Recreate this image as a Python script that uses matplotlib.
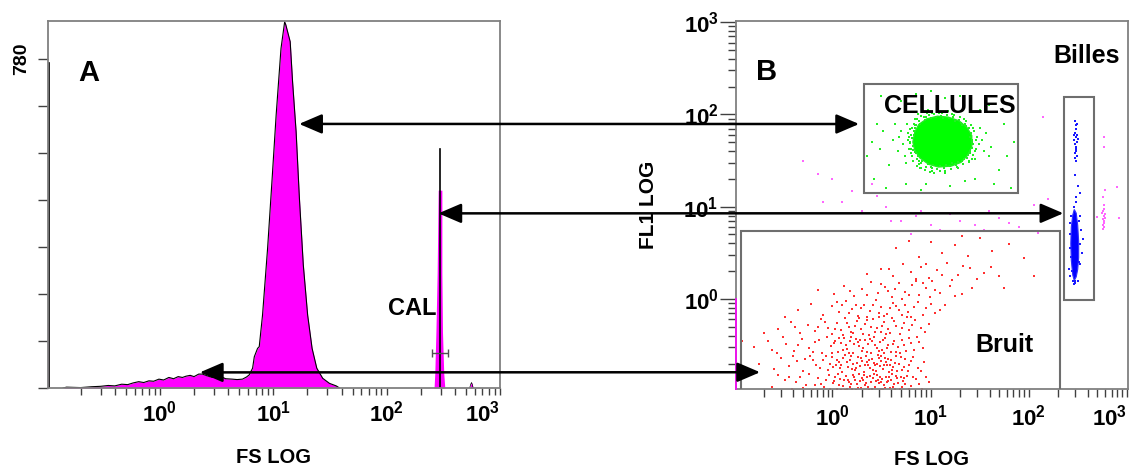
import numpy as np
import matplotlib
matplotlib.use("Agg")
import matplotlib.pyplot as plt
from matplotlib.patches import Rectangle, Polygon, ConnectionPatch
from matplotlib.ticker import FixedLocator, FixedFormatter, NullFormatter
from matplotlib import font_manager

# ---------------------------------------------------------------- fonts
_names = {f.name for f in font_manager.fontManager.ttflist}
NUM_FONT = 'Liberation Sans Narrow' if 'Liberation Sans Narrow' in _names else 'Liberation Sans'
plt.rcParams['font.family'] = ['Liberation Sans', 'DejaVu Sans']
plt.rcParams['font.weight'] = 'bold'
plt.rcParams['mathtext.fontset'] = 'custom'
plt.rcParams['mathtext.rm'] = NUM_FONT + ':bold'
plt.rcParams['mathtext.it'] = NUM_FONT + ':bold'
plt.rcParams['mathtext.bf'] = NUM_FONT + ':bold'

# ---------------------------------------------------------------- data
# Panel A: FS LOG histogram (channel value, event count)
fs_channels = [0.14, 0.15, 0.2, 0.25, 0.3, 0.35, 0.4, 0.46, 0.52, 0.58, 0.65, 0.72,
               0.8, 0.88, 0.98, 1.08, 1.2, 1.32, 1.45, 1.58, 1.7, 1.85, 2.0, 2.2,
               2.37, 2.6, 2.9, 3.1, 3.45, 3.8, 4.35, 4.8, 5.35, 5.8, 6.13, 6.57,
               6.8, 7.27, 7.52, 8.04, 8.91, 9.73, 10.6, 11.7, 12.6, 12.9, 14.1,
               14.8, 15.9, 17.0, 18.4, 20.1, 22.0, 24.2, 27.3, 31.3, 35.9, 38.4]
fs_counts = [0, 2, 1, 3, 4, 6, 5, 9, 8, 12, 15, 13,
             17, 16, 21, 19, 25, 22, 27, 25, 28, 30, 27, 33,
             33, 29, 25, 28, 27, 22, 21, 20, 21, 26, 31, 47,
             74, 94, 98, 173, 331, 489, 647, 805, 868, 861, 821,
             726, 608, 450, 292, 173, 94, 47, 23, 11, 5, 0]

# calibration-bead peak ("CAL")
cal_channels = [262, 266, 272, 279, 285, 307, 307, 311, 319, 326]
cal_counts = [0, 35, 132, 272, 469, 469, 272, 132, 35, 0]
cal_line_channel = 294
cal_line_top = 566
cal_gate = (250, 347)
cal_gate_level = 83

# doublet bump and first-channel pile-up
bump_channels = [540, 552, 561, 570, 580]
bump_counts = [0, 9, 13, 8, 0]
edge_fill_top = 154
edge_line_top = 771

y_ticks_a = [0, 111.4, 222.9, 334.3, 445.7, 557.1, 668.6, 780]
y_labels_a = ['', '', '', '', '', '', '', '780']

decades = [1, 10, 100, 1000]
decade_labels = [r'$10^{0}$', r'$10^{1}$', r'$10^{2}$', r'$10^{3}$']

# Panel B: dot plot, log10(FS), log10(FL1)
noise_pts = [
    (-0.62,-0.95),(-0.48,-0.88),(-0.41,-0.97),(-0.33,-0.84),(-0.27,-0.93),(-0.2,-0.99),
    (-0.15,-0.86),(-0.09,-0.95),(-0.04,-0.82),(0.01,-0.91),(0.05,-0.98),(0.08,-0.87),
    (0.11,-0.94),(0.14,-0.83),(0.17,-0.9),(0.2,-0.97),(0.22,-0.85),(0.25,-0.92),
    (0.27,-0.81),(0.29,-0.96),(0.31,-0.88),(0.33,-0.93),(0.35,-0.84),(0.37,-0.99),
    (0.39,-0.9),(0.41,-0.86),(0.43,-0.95),(0.45,-0.82),(0.47,-0.91),(0.49,-0.97),
    (0.51,-0.87),(0.53,-0.93),(0.55,-0.84),(0.57,-0.89),(0.59,-0.96),(0.61,-0.81),
    (0.63,-0.92),(0.66,-0.86),(0.69,-0.98),(0.72,-0.89),(0.76,-0.83),(0.8,-0.94),
    (0.85,-0.87),(0.91,-0.97),(-0.55,-0.82),(-0.37,-0.9),(-0.12,-0.92),(0.03,-0.85),
    (0.19,-0.92),(0.24,-0.99),(0.34,-0.91),(0.42,-0.81),(0.46,-0.88),(0.52,-0.98),
    (0.58,-0.85),(0.64,-0.97),(0.7,-0.84),(0.74,-0.92),(0.07,-0.93),(0.15,-0.97),
    (0.28,-0.89),(0.38,-0.83),(0.5,-0.9),(0.6,-0.88),(0.98,-0.9),(-0.02,-0.97),
    (0.12,-0.88),(0.32,-0.82),
    (0.02,-0.89),(0.06,-0.81),(0.09,-0.99),(0.16,-0.88),(0.18,-0.95),(0.21,-0.82),
    (0.26,-0.96),(0.3,-0.86),(0.36,-0.95),(0.4,-0.98),(0.44,-0.89),(0.48,-0.84),
    (0.54,-0.96),(0.56,-0.9),(0.62,-0.95),(0.65,-0.83),(0.67,-0.91),(0.71,-0.95),
    (0.73,-0.86),(0.78,-0.97),(0.82,-0.85),(0.88,-0.92),(0.95,-0.84),(-0.07,-0.88),
    (-0.18,-0.93),(-0.3,-0.96),(-0.44,-0.85),(-0.24,-0.81),(0.13,-0.99),(0.23,-0.88),
    (-0.75,-0.7),(-0.6,-0.76),(-0.52,-0.64),(-0.44,-0.73),(-0.36,-0.67),(-0.3,-0.78),
    (-0.23,-0.62),(-0.17,-0.71),(-0.1,-0.66),(-0.05,-0.77),(0.0,-0.63),(0.04,-0.72),
    (0.07,-0.68),(0.1,-0.79),(0.13,-0.61),(0.16,-0.74),(0.18,-0.66),(0.21,-0.7),
    (0.23,-0.77),(0.26,-0.63),(0.28,-0.73),(0.3,-0.67),(0.32,-0.79),(0.34,-0.62),
    (0.36,-0.71),(0.38,-0.75),(0.4,-0.65),(0.42,-0.69),(0.44,-0.78),(0.46,-0.61),
    (0.48,-0.73),(0.5,-0.67),(0.52,-0.76),(0.54,-0.64),(0.56,-0.71),(0.58,-0.79),
    (0.6,-0.66),(0.62,-0.74),(0.65,-0.62),(0.68,-0.7),(0.71,-0.77),(0.74,-0.65),
    (0.78,-0.72),(0.82,-0.63),(0.87,-0.75),(0.93,-0.68),(-0.85,-0.77),(-0.28,-0.65),
    (-0.02,-0.7),(0.11,-0.64),(0.24,-0.75),(0.35,-0.68),(0.47,-0.64),(0.59,-0.72),
    (0.66,-0.78),(0.08,-0.75),(0.19,-0.62),(0.43,-0.72),(0.55,-0.68),(0.77,-0.78),
    (0.01,-0.74),(0.05,-0.66),(0.09,-0.71),(0.15,-0.68),(0.2,-0.76),(0.25,-0.69),
    (0.29,-0.64),(0.33,-0.72),(0.37,-0.66),(0.41,-0.77),(0.45,-0.7),(0.49,-0.62),
    (0.53,-0.71),(0.57,-0.65),(0.61,-0.77),(0.64,-0.69),(0.7,-0.63),(0.73,-0.74),
    (0.8,-0.67),(0.9,-0.78),(-0.13,-0.75),(-0.2,-0.66),(-0.4,-0.62),(-0.07,-0.62),
    (-0.8,-0.52),(-0.66,-0.45),(-0.57,-0.58),(-0.47,-0.49),(-0.39,-0.56),(-0.31,-0.43),
    (-0.24,-0.53),(-0.18,-0.47),(-0.11,-0.58),(-0.06,-0.41),(-0.01,-0.51),(0.03,-0.45),
    (0.06,-0.57),(0.09,-0.48),(0.12,-0.42),(0.15,-0.54),(0.18,-0.46),(0.21,-0.59),
    (0.24,-0.43),(0.27,-0.51),(0.3,-0.56),(0.33,-0.44),(0.36,-0.49),(0.39,-0.58),
    (0.42,-0.41),(0.45,-0.53),(0.48,-0.47),(0.51,-0.55),(0.54,-0.42),(0.57,-0.5),
    (0.6,-0.57),(0.63,-0.45),(0.67,-0.52),(0.71,-0.44),(0.75,-0.56),(0.8,-0.48),
    (0.86,-0.41),(0.92,-0.53),(-0.5,-0.41),(-0.14,-0.44),(0.0,-0.59),(0.14,-0.5),
    (0.26,-0.47),(0.4,-0.45),(0.53,-0.59),(0.69,-0.58),(0.83,-0.55),(0.19,-0.41),
    (0.02,-0.48),(0.07,-0.42),(0.11,-0.55),(0.17,-0.58),(0.22,-0.49),(0.28,-0.44),
    (0.31,-0.53),(0.35,-0.57),(0.38,-0.43),(0.43,-0.5),(0.47,-0.56),(0.52,-0.44),
    (0.56,-0.53),(0.62,-0.49),(0.65,-0.57),(0.73,-0.5),(0.78,-0.42),(0.88,-0.47),
    (-0.2,-0.57),(-0.35,-0.5),(-0.62,-0.55),
    (-0.55,-0.33),(-0.42,-0.25),(-0.33,-0.37),(-0.25,-0.28),(-0.18,-0.35),(-0.12,-0.22),
    (-0.05,-0.31),(0.0,-0.38),(0.05,-0.26),(0.09,-0.34),(0.13,-0.21),(0.17,-0.3),
    (0.21,-0.37),(0.25,-0.24),(0.29,-0.32),(0.33,-0.27),(0.37,-0.39),(0.41,-0.22),
    (0.45,-0.31),(0.49,-0.36),(0.53,-0.25),(0.57,-0.33),(0.61,-0.21),(0.65,-0.29),
    (0.69,-0.38),(0.73,-0.26),(0.78,-0.34),(0.84,-0.23),(0.9,-0.31),(0.98,-0.27),
    (-0.7,-0.37),(-0.08,-0.25),(0.23,-0.29),(0.39,-0.3),(0.55,-0.38),(0.76,-0.2),
    (0.11,-0.39),(0.47,-0.2),
    (0.03,-0.33),(0.15,-0.26),(0.19,-0.36),(0.27,-0.21),(0.31,-0.38),(0.35,-0.23),
    (0.43,-0.36),(0.51,-0.29),(0.59,-0.37),(0.63,-0.24),(0.71,-0.31),(0.81,-0.28),
    (0.94,-0.36),(-0.15,-0.3),(-0.38,-0.3),
    (-0.35,-0.12),(-0.22,-0.05),(-0.1,-0.17),(0.0,-0.08),(0.07,-0.14),(0.14,-0.02),
    (0.2,-0.11),(0.26,-0.18),(0.32,-0.06),(0.38,-0.13),(0.44,-0.01),(0.5,-0.09),
    (0.56,-0.16),(0.62,-0.04),(0.68,-0.12),(0.74,-0.07),(0.8,-0.19),(0.87,-0.03),
    (0.95,-0.1),(1.05,-0.15),(1.15,-0.06),(0.1,-0.06),(0.35,-0.19),(0.59,-0.1),
    (0.77,-0.14),(0.47,-0.15),(0.92,-0.17),(-0.48,-0.2),
    (0.05,-0.03),(0.17,-0.15),(0.29,-0.1),(0.41,-0.07),(0.53,-0.18),(0.65,-0.08),
    (0.71,-0.17),(0.83,-0.09),(1.0,-0.05),(1.1,-0.12),(0.24,-0.06),
    (0.02,0.05),(0.12,0.14),(0.22,0.03),(0.3,0.11),(0.39,0.18),(0.46,0.06),
    (0.54,0.13),(0.61,0.02),(0.68,0.17),(0.74,0.08),(0.81,0.15),(0.88,0.04),
    (0.95,0.12),(1.02,0.19),(1.1,0.07),(1.2,0.14),(1.32,0.05),(0.57,0.09),
    (0.85,0.19),(0.99,0.02),(-0.15,0.1),(0.71,0.0),
    (0.18,0.09),(0.35,0.04),(0.5,0.16),(0.64,0.11),(0.78,0.04),(0.92,0.17),
    (1.05,0.1),(1.25,0.03),(1.42,0.12),
    (0.35,0.27),(0.5,0.33),(0.62,0.25),(0.72,0.38),(0.8,0.29),(0.9,0.35),
    (0.98,0.23),(1.07,0.31),(1.17,0.39),(1.28,0.26),(1.4,0.34),(1.55,0.28),
    (0.85,0.22),(1.22,0.21),(0.58,0.32),(0.95,0.38),(1.12,0.26),(1.33,0.36),
    (1.47,0.22),(1.62,0.35),(1.7,0.25),
    (0.65,0.55),(0.88,0.45),(1.0,0.62),(1.12,0.5),(1.25,0.58),(1.38,0.47),
    (1.5,0.66),(1.63,0.52),(1.8,0.6),(1.95,0.44),(1.32,0.68),(0.78,0.63),
    (2.05,0.25),(1.75,0.12),(-0.92,-0.45),
]

cell_core = [(0.82,1.70),(0.84,1.81),(0.88,1.89),(0.96,1.95),(1.07,1.98),(1.18,1.97),
             (1.29,1.93),(1.37,1.86),(1.42,1.77),(1.42,1.65),(1.38,1.56),(1.31,1.48),
             (1.21,1.44),(1.08,1.43),(0.98,1.46),(0.89,1.53),(0.84,1.61)]
cell_pts = [
    (0.62,1.72),(0.67,1.6),(0.7,1.82),(0.72,1.68),(0.74,1.55),(0.76,1.9),(0.78,1.75),
    (0.8,1.63),(0.81,1.85),(0.82,1.5),(0.84,1.95),(0.83,1.78),(0.85,1.58),(0.87,2.0),
    (0.86,1.44),(0.9,1.98),(0.89,1.42),(0.92,2.03),(0.94,1.4),(0.97,2.05),(0.99,1.38),
    (1.02,2.02),(1.04,1.36),(1.07,2.07),(1.1,1.39),(1.12,2.01),(1.15,1.37),(1.18,2.04),
    (1.21,1.41),(1.24,1.99),(1.27,1.43),(1.3,1.97),(1.33,1.46),(1.36,1.93),(1.39,1.5),
    (1.41,1.88),(1.43,1.56),(1.44,1.82),(1.46,1.62),(1.47,1.75),(1.49,1.68),(1.52,1.72),
    (1.54,1.6),(1.5,1.85),(0.68,1.76),(0.75,1.47),(1.57,1.8),(0.64,1.9),(1.62,1.65),
    (1.6,1.55),(0.79,1.7),(0.8,1.58),(0.84,1.88),(0.88,1.49),(0.95,1.97),(1.0,1.43),
    (1.13,1.97),(1.25,1.46),(1.32,1.89),(1.4,1.6),(1.42,1.7),(0.77,1.8),(1.45,1.52),
    (0.82,1.66),(0.81,1.74),(0.83,1.82),(0.84,1.59),(0.85,1.88),(0.86,1.52),(0.88,1.93),
    (0.9,1.47),(0.93,1.97),(0.95,1.43),(0.98,1.99),(1.01,1.42),(1.04,2.0),(1.07,1.41),
    (1.11,1.98),(1.14,1.42),(1.17,1.99),(1.2,1.44),(1.23,1.97),(1.26,1.45),(1.29,1.94),
    (1.32,1.49),(1.35,1.9),(1.37,1.53),(1.39,1.85),(1.4,1.58),(1.41,1.8),(1.42,1.64),
    (1.42,1.72),(0.79,1.69),(0.8,1.78),(0.82,1.61),(0.84,1.85),(0.87,1.55),(0.89,1.9),
    (0.91,1.5),(0.94,1.94),(0.97,1.46),(1.0,1.96),(1.03,1.45),(1.06,1.97),(1.1,1.44),
    (1.13,1.96),(1.16,1.45),(1.19,1.96),(1.22,1.47),(1.25,1.93),(1.28,1.48),(1.31,1.91),
    (1.34,1.52),(1.36,1.87),(1.38,1.56),(1.4,1.76),(1.43,1.68),(0.78,1.62),(0.77,1.72),
    (0.79,1.84),(0.81,1.55),(0.86,1.95),(0.9,1.42),(0.96,2.01),(1.02,1.39),(1.09,2.02),
    (1.15,1.39),(1.22,2.0),(1.28,1.42),(1.34,1.95),(1.39,1.48),(1.43,1.85),(1.45,1.6),
    (1.46,1.72),(0.83,1.9),(0.88,1.46),(1.42,1.52),
    (0.35,1.55),(0.42,1.3),(0.45,1.9),(0.5,2.2),(0.55,1.2),(0.58,1.45),(0.7,2.15),
    (0.75,1.25),(0.9,1.18),(1.0,2.25),(1.2,1.22),(1.3,2.2),(1.45,1.3),(1.6,2.1),
    (1.7,1.4),(1.75,1.9),(1.82,1.2),(1.85,1.7),(0.4,1.7),(0.48,1.62),(0.95,1.25),
    (1.35,1.28),(1.65,1.25),(1.15,2.18),(0.85,2.22),(1.5,2.05),(1.78,1.55),(0.52,1.82),
    (0.32,1.25),(1.05,1.15),
]

bead_core = [(2.465,0.97),(2.485,0.93),(2.50,0.80),(2.51,0.62),(2.51,0.45),(2.50,0.32),
             (2.485,0.24),(2.465,0.20),(2.45,0.26),(2.435,0.42),(2.43,0.60),(2.435,0.78),
             (2.45,0.91)]
bead_pts = [
    (2.43,0.9),(2.51,0.85),(2.42,0.7),(2.52,0.6),(2.43,0.45),(2.51,0.4),(2.44,0.3),
    (2.5,0.2),(2.46,0.16),(2.47,0.19),(2.42,0.55),(2.53,0.75),(2.46,1.0),(2.48,1.05),
    (2.41,0.33),(2.54,0.5),(2.475,0.17),(2.455,0.2),(2.42,0.82),(2.525,0.38),
    (2.52,0.9),(2.42,0.25),
    (2.475,1.93),(2.48,1.88),(2.485,1.84),(2.47,1.8),(2.49,1.78),(2.48,1.75),(2.46,1.72),
    (2.495,1.7),(2.47,1.68),(2.485,1.65),(2.48,1.62),(2.475,1.58),(2.49,1.55),(2.47,1.53),
    (2.48,1.6),(2.5,1.73),(2.46,1.78),(2.49,1.9),(2.48,1.5),(2.47,1.34),(2.5,1.22),
    (2.48,1.1),(2.52,1.15),(2.55,0.65),
]

rare_pts = [
    (2.76,1.1),(2.765,1.02),(2.77,0.98),(2.76,0.95),(2.775,0.92),(2.765,0.9),(2.76,0.87),
    (2.77,0.85),(2.765,0.82),(2.755,0.8),(2.77,0.78),(2.76,0.76),(2.78,0.88),(2.75,0.93),
    (2.77,1.75),(2.77,1.65),(2.9,1.21),(2.92,0.88),(2.7,0.89),(2.78,1.18),
    (-0.3,1.5),(-0.15,1.35),(0.0,1.3),(0.1,1.05),(0.2,1.17),(0.3,0.95),(0.45,1.12),
    (0.55,1.0),(0.6,0.85),(0.7,0.85),(0.8,0.7),(0.9,0.95),(1.0,0.8),(1.1,0.75),
    (1.2,0.92),(1.3,0.85),(1.45,0.8),(1.6,0.95),(1.7,0.88),(1.8,0.82),(1.9,0.78),
    (2.05,1.02),(2.2,1.08),(0.4,1.25),(-0.1,1.05),(1.55,0.75),(2.1,0.72),(0.85,0.9),
    (2.15,1.97),
]

# gates: (FS low, FS high, FL1 low, FL1 high)
gate_cells = (2.10, 78.2, 14.1, 213)
gate_beads = (230, 465, 0.975, 154)
gate_noise = (0.117, 209, 0.09, 5.45)

# linking arrows: panel A (FS, count) <-> panel B (FS, FL1)
arrow_a = [(16.9, 626), (286, 414), (2.25, 37)]
arrow_b = [(1.87, 78.6), (226, 8.48), (0.183, 0.161)]

# ---------------------------------------------------------------- figure
W, H = 1131, 468
fig = plt.figure(figsize=(W / 100, H / 100), dpi=100)
axA = fig.add_axes([48 / W, 1 - 388 / H, 452 / W, 367 / H])
axB = fig.add_axes([736 / W, 1 - 389 / H, 392 / W, 368 / H])

MAGENTA = '#ff00ff'
SPINE = '#808080'
TICK = '#404040'
GATE = '#6e6e6e'


def style_log_x(ax, major_len, minor_len, pad):
    ax.set_xscale('log')
    ax.xaxis.set_major_locator(FixedLocator(decades))
    ax.xaxis.set_major_formatter(FixedFormatter(decade_labels))
    ax.xaxis.set_minor_locator(FixedLocator([m * d for d in (0.1, 1, 10, 100) for m in range(2, 10)]))
    ax.xaxis.set_minor_formatter(NullFormatter())
    ax.tick_params(axis='x', which='major', length=major_len, width=1, color=TICK,
                   pad=pad, labelsize=16)
    ax.tick_params(axis='x', which='minor', length=minor_len, width=1, color=TICK)
    labels = ax.get_xticklabels()
    labels[-1].set_horizontalalignment('right')


for ax in (axA, axB):
    for s in ax.spines.values():
        s.set_color(SPINE)
        s.set_linewidth(1.3)

# ---- panel A
axA.fill_between(fs_channels, fs_counts, color=MAGENTA, lw=0)
axA.plot(fs_channels, fs_counts, color='black', lw=0.8)
axA.fill_between(cal_channels, cal_counts, color=MAGENTA, lw=0)
axA.plot([cal_line_channel, cal_line_channel], [0, cal_line_top], color='black', lw=1.2)
axA.fill_between(bump_channels, bump_counts, color=MAGENTA, lw=0)
axA.plot(bump_channels, bump_counts, color='black', lw=0.5)
axA.fill_between([0.103, 0.106], [edge_fill_top, edge_fill_top], color=MAGENTA, lw=0)
axA.plot([0.1045, 0.1045], [0, edge_line_top], color='black', lw=1.2)
cal_mid = (cal_gate[0] * cal_gate[1]) ** 0.5
axA.errorbar([cal_mid], [cal_gate_level],
             xerr=[[cal_mid - cal_gate[0]], [cal_gate[1] - cal_mid]],
             fmt='none', ecolor='#505050', elinewidth=1, capsize=3, capthick=1)

axA.set_xlim(0.103, 1000)
axA.set_ylim(0, 870)
style_log_x(axA, 5, 5, 4)
axA.set_yticks(y_ticks_a)
axA.set_yticklabels(y_labels_a)
axA.tick_params(axis='y', length=7.2, width=1, color=TICK, pad=6, labelsize=14,
                labelrotation=90)
for lbl in axA.get_yticklabels():
    lbl.set_fontfamily(NUM_FONT)
    lbl.set_verticalalignment('center')

axA.text(0.0907, 0.8365, 'A', transform=axA.transAxes, ha='center', va='baseline',
         fontsize=21, fontweight='bold')
axA.text(0.806, 0.199, 'CAL', transform=axA.transAxes, ha='center', va='baseline',
         fontsize=17, fontweight='bold')

# ---- panel B
def logpts(pts):
    arr = np.asarray(pts, dtype=float)
    return 10 ** arr[:, 0], 10 ** arr[:, 1]


DOT = 3.2
nx, ny = logpts(noise_pts)
axB.scatter(nx, ny, s=DOT, marker='s', c='#ff3030', linewidths=0, zorder=2)
rx, ry = logpts(rare_pts)
axB.scatter(rx, ry, s=DOT, marker='s', c='#ff66ff', linewidths=0, zorder=2)
cx, cy = logpts(cell_core)
axB.add_patch(Polygon(np.column_stack([cx, cy]), closed=True, facecolor='#00ff00',
                      edgecolor='#22ee22', lw=1.0, zorder=2))
gx, gy = logpts(cell_pts)
axB.scatter(gx, gy, s=DOT, marker='s', c='#22ee22', linewidths=0, zorder=2)
bx, by = logpts(bead_core)
axB.add_patch(Polygon(np.column_stack([bx, by]), closed=True, facecolor='#0000ff',
                      edgecolor='#3030ff', lw=0.8, zorder=2))
px, py = logpts(bead_pts)
axB.scatter(px, py, s=DOT, marker='s', c='#1a1aff', linewidths=0, zorder=2)
axB.plot([0.1045, 0.1045], [0.106, 1.0], color=MAGENTA, lw=1.2, zorder=4, clip_on=False)

for (x0, x1, y0, y1) in (gate_cells, gate_beads, gate_noise):
    axB.add_patch(Rectangle((x0, y0), x1 - x0, y1 - y0, fill=False, edgecolor=GATE,
                            lw=1.5, zorder=3))

axB.set_xlim(0.104, 1030)
axB.set_ylim(0.106, 1026)
style_log_x(axB, 6, 6, 5)
axB.set_yscale('log')
axB.yaxis.set_major_locator(FixedLocator(decades))
axB.yaxis.set_major_formatter(FixedFormatter(decade_labels))
axB.yaxis.set_minor_locator(FixedLocator([m * d for d in (0.1, 1, 10, 100) for m in range(2, 10)]))
axB.yaxis.set_minor_formatter(NullFormatter())
axB.tick_params(axis='y', which='major', length=11.5, width=1, color=TICK, pad=1, labelsize=16)
axB.tick_params(axis='y', which='minor', length=5.8, width=1, color=TICK)

axB.text(0.079, 0.8397, 'B', transform=axB.transAxes, ha='center', va='baseline',
         fontsize=21, fontweight='bold')
axB.text(0.895, 0.886, 'Billes', transform=axB.transAxes, ha='center', va='baseline',
         fontsize=18, fontweight='bold', zorder=6)
axB.text(0.546, 0.750, 'CELLULES', transform=axB.transAxes, ha='center', va='baseline',
         fontsize=18, fontweight='bold', zorder=6)
axB.text(0.685, 0.1005, 'Bruit', transform=axB.transAxes, ha='center', va='baseline',
         fontsize=18, fontweight='bold', zorder=6)

# axis titles
fig.text(273 / W, 1 - 463 / H, 'FS LOG', ha='center', va='baseline', fontsize=14.5,
         fontweight='bold')
fig.text(932 / W, 1 - 465 / H, 'FS LOG', ha='center', va='baseline', fontsize=14.5,
         fontweight='bold')
fig.text(648.5 / W, 1 - 205 / H, 'FL1 LOG', ha='center', va='center', rotation=90,
         fontsize=15, fontweight='bold')

# double-headed arrows linking populations across panels
for (xa, ya), (xb, yb) in zip(arrow_a, arrow_b):
    con = ConnectionPatch(xyA=(xa, ya), coordsA=axA.transData,
                          xyB=(xb, yb), coordsB=axB.transData,
                          arrowstyle='<|-|>,head_length=1.4,head_width=0.6',
                          mutation_scale=10, lw=1.8, color='black',
                          shrinkA=0, shrinkB=0, zorder=10)
    fig.add_artist(con)

fig.savefig('out.png', dpi=100)
